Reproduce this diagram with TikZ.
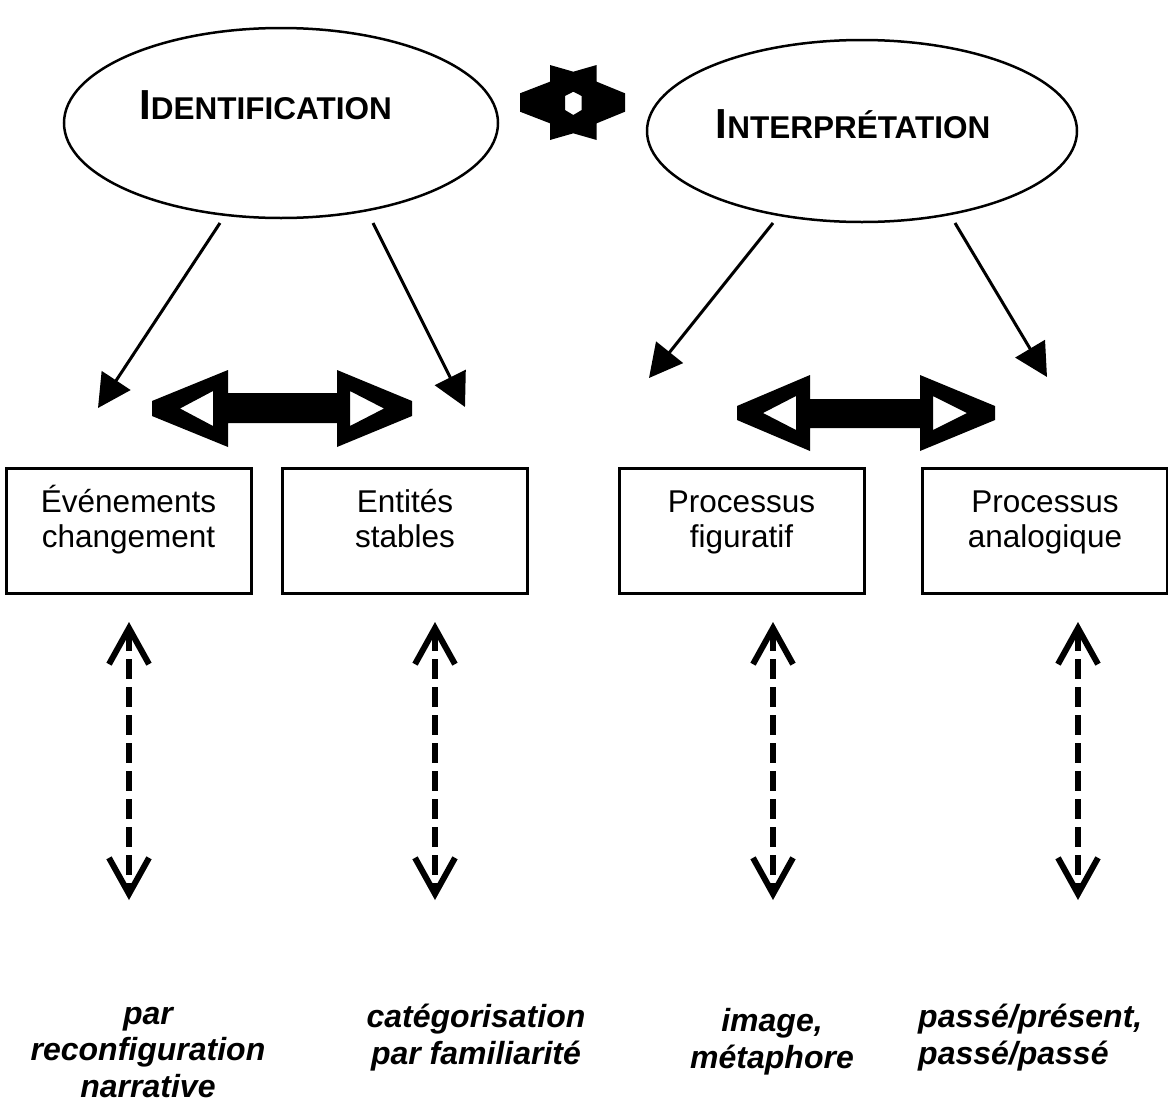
\documentclass[tikz,border=0pt]{standalone}
\usepackage{fontspec}
\setmainfont{Liberation Sans}
\usetikzlibrary{arrows.meta,shapes.geometric}
\newcommand\tcBig[1]{{\fontsize{42}{42}\selectfont #1}}
\newcommand\tcSmall[1]{{\fontsize{31.5}{31}\selectfont #1}}
\begin{document}
\begin{tikzpicture}[x=1pt,y=-1pt,
  ell/.style={draw,ellipse,line width=2.5pt,inner sep=0pt},
  title/.style={font=\bfseries,inner sep=0pt},
  box/.style={draw,line width=3pt,minimum width=245pt,minimum height=125pt,inner sep=0pt},
  boxtxt/.style={font=\fontsize{31.5}{35}\selectfont,align=center,inner sep=0pt},
  note/.style={font=\fontsize{32}{36.5}\selectfont\bfseries\itshape,align=center,inner sep=0pt},
  thinarrow/.style={line width=3pt,-{Triangle[length=33pt,width=34pt]}},
  dasharrow/.style={line width=6pt,dash pattern=on 20pt off 8pt,
    {Straight Barb[length=36pt,width=40pt]}-{Straight Barb[length=36pt,width=40pt]}},
  bigarrow/.style={fill=black,even odd rule}
]
\useasboundingbox (0,0) rectangle (1168,1106);

% ellipses and titles
\node[ell,minimum width=434pt,minimum height=190pt] (ident) at (281,123) {};
\node[title,anchor=base] (identT) at (265.5,119) {\tcBig{I}\tcSmall{DENTIFICATION}};
\node[ell,minimum width=430pt,minimum height=182pt] (interp) at (862,131) {};
\node[title,anchor=base] (interpT) at (853,138) {\tcBig{I}\tcSmall{NTERPRÉTATION}};

% top double symbol
\path[bigarrow] (520,93.3) -- (550,81.7) -- (550,65) -- (573.3,71.7) -- (596.7,65)
  -- (596.7,81.7) -- (625,93.3) -- (625,111.7) -- (596.7,123.3) -- (596.7,140)
  -- (573.3,133.3) -- (550,140) -- (550,123.3) -- (520,111.7) -- cycle
  (573.3,91.7) -- (581.7,96) -- (581.7,110) -- (573.3,115) -- (565,110) -- (565,96) -- cycle;

% boxes
\node[box] (b1) at (128.5,530.5) {};
\node[box] (b2) at (405,530.5) {};
\node[box] (b3) at (741.5,530.5) {};
\node[box] (b4) at (1044.5,530.5) {};
\node[boxtxt,anchor=base] (t1) at (128.5,547) {Événements\\changement};
\node[boxtxt,anchor=base] (t2) at (405,547) {Entités\\stables};
\node[boxtxt,anchor=base] (t3) at (741.5,547) {Processus\\figuratif};
\node[boxtxt,anchor=base] (t4) at (1045,547) {Processus\\analogique};

% thin arrows from ellipses
\coordinate (a1s) at (220,223); \coordinate (a1e) at (98,408);
\coordinate (a2s) at (373,223); \coordinate (a2e) at (465,407);
\coordinate (a3s) at (773,223); \coordinate (a3e) at (649,378);
\coordinate (a4s) at (955,223); \coordinate (a4e) at (1047,377);
\draw[thinarrow] (a1s) -- (a1e);
\draw[thinarrow] (a2s) -- (a2e);
\draw[thinarrow] (a3s) -- (a3e);
\draw[thinarrow] (a4s) -- (a4e);

% thick double arrows
\path[bigarrow] (152,401) -- (228,370) -- (228,393) -- (337,393) -- (337,370)
  -- (412,401) -- (412,416) -- (337,447) -- (337,423) -- (228,423) -- (228,447)
  -- (152,416) -- cycle
  (180,408.5) -- (213,391) -- (213,426) -- cycle
  (384,408.5) -- (350,391) -- (350,426) -- cycle;
\path[bigarrow] (737,406) -- (810,375) -- (810,399) -- (920,399) -- (920,375)
  -- (995,406) -- (995,420) -- (920,451) -- (920,428) -- (810,428) -- (810,451)
  -- (737,420) -- cycle
  (763,413) -- (796,396) -- (796,430) -- cycle
  (967,413) -- (933,396) -- (933,430) -- cycle;

% dashed double arrows
\coordinate (d1s) at (129,622); \coordinate (d1e) at (129,900);
\coordinate (d2s) at (435,622); \coordinate (d2e) at (435,900);
\coordinate (d3s) at (773,622); \coordinate (d3e) at (773,900);
\coordinate (d4s) at (1078,622); \coordinate (d4e) at (1078,900);
\draw[dasharrow] (d1s) -- (d1e);
\draw[dasharrow] (d2s) -- (d2e);
\draw[dasharrow] (d3s) -- (d3e);
\draw[dasharrow] (d4s) -- (d4e);

% bottom notes
\node[note,anchor=base] (n1) at (148,1097) {par\\reconfiguration\\narrative};
\node[note,anchor=base] (n2) at (476,1064) {catégorisation\\par familiarité};
\node[note,anchor=base] (n3) at (772,1068) {image,\\métaphore};
\node[note,anchor=base west,align=left] (n4) at (918,1064) {passé/présent,\\passé/passé};
\end{tikzpicture}
\end{document}
